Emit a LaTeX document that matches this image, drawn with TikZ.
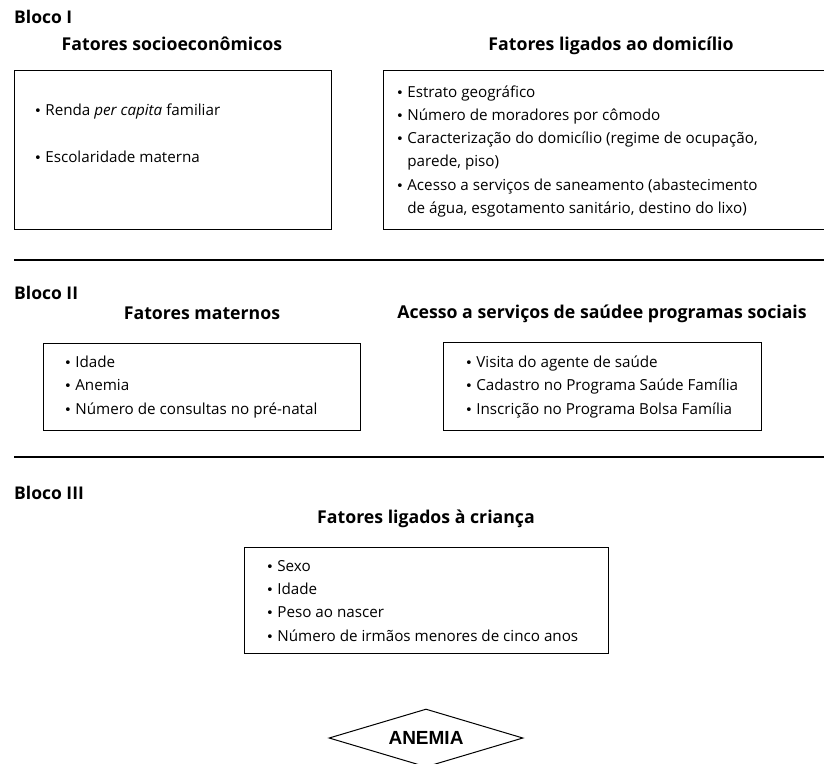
\documentclass[tikz,border=0pt]{standalone}
\usepackage{fontspec}
\setmainfont{Open Sans}
\newfontfamily\rotulofont{Liberation Sans}
\newfontfamily\marcafont{DejaVu Sans}
\usetikzlibrary{positioning}
\usetikzlibrary{shapes.geometric}

\tikzset{
  caixa/.style={draw, line width=1pt, inner sep=0pt},
  titulo/.style={anchor=base, inner sep=0pt, font=\fontsize{17.7}{19}\selectfont\bfseries},
  bloco/.style={anchor=west, inner sep=0pt, font=\fontsize{17.5}{19}\selectfont\bfseries},
  lista/.style={anchor=base west, align=left, inner sep=0pt, font=\fontsize{15.2}{23.3}\selectfont},
  regua/.style={line width=2.3pt},
}
\newcommand{\marca}{{\marcafont\fontsize{13}{13}\selectfont •}\hspace{3.5pt}}
\newcommand{\recuo}{\phantom{\marca}}

\begin{document}
\begin{tikzpicture}[x=1pt,y=-1pt]
		\useasboundingbox (0,0) rectangle (824,763);
		% Bloco I
		\node[bloco] (bloco1) at (14,17) {Bloco I};
		\node[titulo] (tsocio) at (172,50.5) {Fatores socioeconômicos};
		\node[titulo] (tdomic) at (611,50.5) {Fatores ligados ao domicílio};
		\node[caixa, minimum width=317, minimum height=159] (socio) at (172.5,149.5) {};
		\node[caixa, minimum width=443, minimum height=159] (domic) at (604.5,149.5) {};
		% base da ultima linha de cada lista
		\node[lista] (lsocio) at (34,162) {\marca Renda \textit{per capita} familiar\\[23.3pt]
			\marca Escolaridade materna};
		\node[lista] (ldomic) at (396,213.5) {\marca Estrato geográfico\\
			\marca Número de moradores por cômodo\\
			\marca Caracterização do domicílio (regime de ocupação,\\
			\recuo parede, piso)\\
			\marca Acesso a serviços de saneamento (abastecimento\\
			\recuo de água, esgotamento sanitário, destino do lixo)};
		\draw[regua] (14,260) -- (824,260);
		% Bloco II
		\node[bloco] (bloco2) at (14,293) {Bloco II};
		\node[titulo] (tmater) at (202,319.5) {Fatores maternos};
		\node[titulo] (tacess) at (602,318.5) {Acesso a serviços de saúdee programas sociais};
		\node[caixa, minimum width=317, minimum height=87] (mater) at (201.5,386.5) {};
		\node[caixa, minimum width=318, minimum height=88] (acess) at (602,386) {};
		\node[lista] (lmater) at (64,414) {\marca Idade\\
			\marca Anemia\\
			\marca Número de consultas no pré-natal};
		\node[lista] (lacess) at (465,414) {\marca Visita do agente de saúde\\
			\marca Cadastro no Programa Saúde Família\\
			\marca Inscrição no Programa Bolsa Família};
		\draw[regua] (14,457) -- (824,457);
		% Bloco III
		\node[bloco] (bloco3) at (14,493) {Bloco III};
		\node[titulo] (tcrian) at (426,523.5) {Fatores ligados à criança};
		\node[caixa, minimum width=364, minimum height=106] (crian) at (426,600) {};
		\node[lista] (lcrian) at (266,641) {\marca Sexo\\
			\marca Idade\\
			\marca Peso ao nascer\\
			\marca Número de irmãos menores de cinco anos};
		% desfecho
		\node[diamond, draw, line width=1pt, inner sep=0pt, aspect=3.3,
			minimum width=194, minimum height=58,
			font=\rotulofont\fontsize{19}{21}\selectfont\bfseries] (anemia) at (426,738) {ANEMIA};
	\end{tikzpicture}
\end{document}
